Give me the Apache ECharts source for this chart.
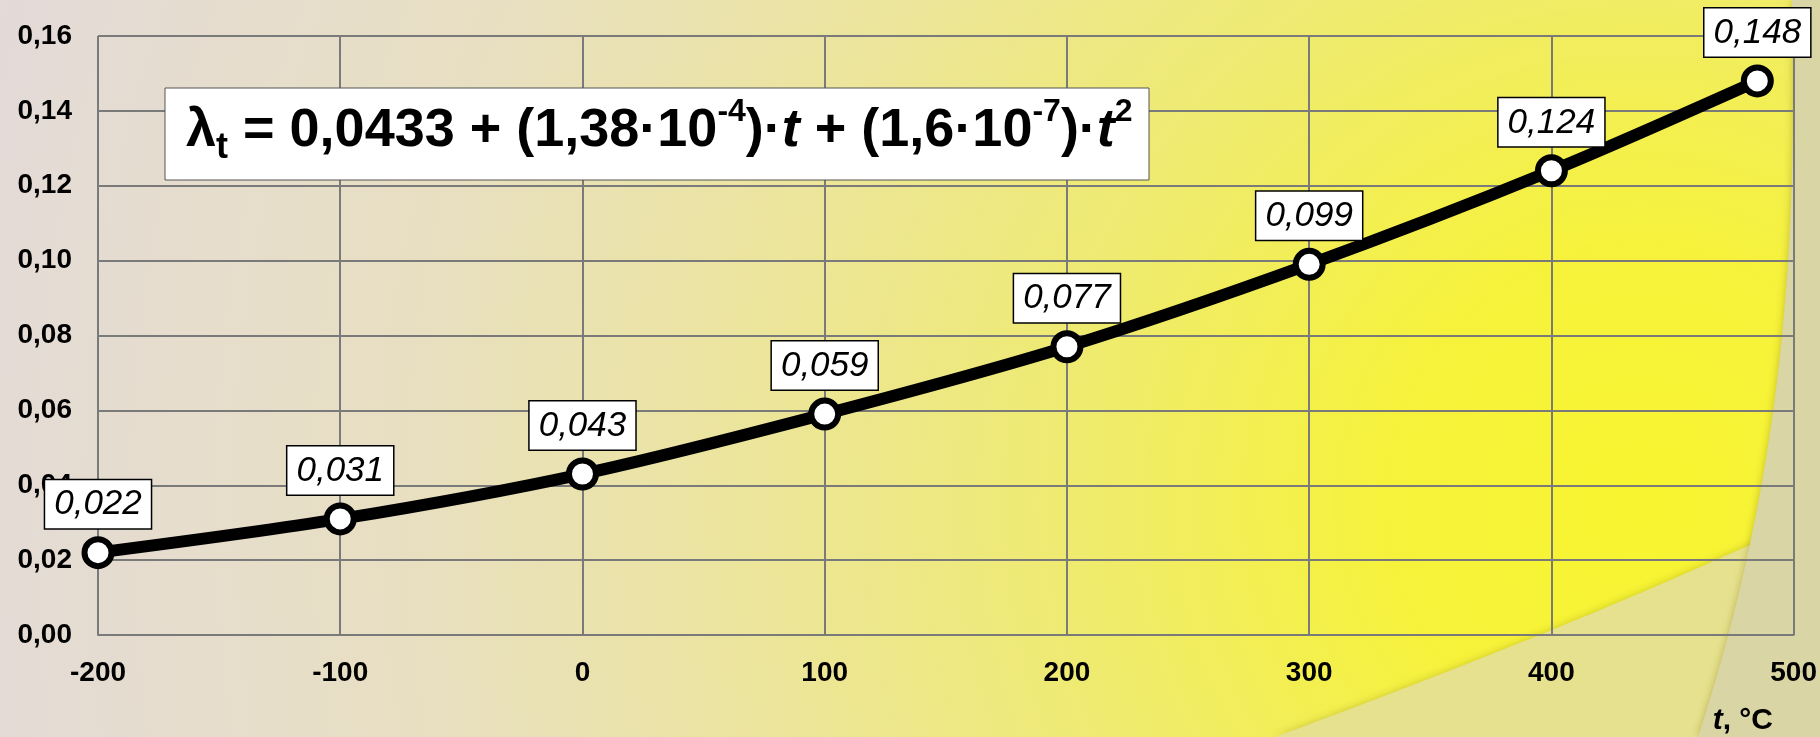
<!DOCTYPE html>
<html>
<head>
<meta charset="utf-8">
<script src="https://cdn.jsdelivr.net/npm/echarts@6/dist/echarts.min.js"></script>
<style>
  html, body { margin: 0; padding: 0; }
  #main { width: 1820px; height: 737px; }
</style>
</head>
<body>
<div id="main"></div>
<script>
// температура, °C и теплопроводность
var temps = [-200, -100, 0, 100, 200, 300, 400, 485];
var lambda = [0.022, 0.031, 0.043, 0.059, 0.077, 0.099, 0.124, 0.148];
var xMin = -200, xMax = 500, xStep = 100;
var yMin = 0, yMax = 0.16, yStep = 0.02;

var chart = echarts.init(document.getElementById('main'));

var points = temps.map(function (t, i) { return [t, lambda[i]]; });

function comma(v, d) {
  return v.toFixed(d).replace('.', ',');
}

// кривая Безье -> точки для фона
function bez(p0, p1, p2, p3, n) {
  var out = [];
  for (var i = 0; i <= n; i++) {
    var s = i / n, u = 1 - s;
    out.push([
      u*u*u*p0[0] + 3*u*u*s*p1[0] + 3*u*s*s*p2[0] + s*s*s*p3[0],
      u*u*u*p0[1] + 3*u*u*s*p1[1] + 3*u*s*s*p2[1] + s*s*s*p3[1]
    ]);
  }
  return out;
}

var swoosh = bez([1275, 737], [1450, 672], [1640, 598], [1820, 512], 40).concat([[1820, 737]]);
var edge = bez([1792, 0], [1798, 250], [1782, 480], [1698, 737], 40).concat([[1820, 737], [1820, 0]]);

var font = 'Liberation Sans, Arial, sans-serif';

var option = {
  animation: false,
  backgroundColor: '#e4dcd8',
  grid: { left: 98, right: 26, top: 36, bottom: 102 },
  xAxis: {
    type: 'value',
    min: xMin, max: xMax, interval: xStep,
    axisLine: { show: true, lineStyle: { color: '#7a7a7a', width: 2 } },
    axisTick: { show: false },
    splitLine: { show: true, lineStyle: { color: '#7a7a7a', width: 2 } },
    axisLabel: { color: '#000', fontSize: 28, fontWeight: 'bold', fontFamily: font, margin: 24 }
  },
  yAxis: {
    type: 'value',
    min: yMin, max: yMax, interval: yStep,
    axisLine: { show: true, lineStyle: { color: '#7a7a7a', width: 2 } },
    axisTick: { show: false },
    splitLine: { show: true, lineStyle: { color: '#7a7a7a', width: 2 } },
    axisLabel: {
      color: '#000', fontSize: 28, fontWeight: 'bold', fontFamily: font, margin: 26,
      formatter: function (v) { return comma(v, 2); }
    }
  },
  graphic: [
    // фон
    {
      type: 'rect', z: -10, silent: true,
      shape: { x: 0, y: 0, width: 1820, height: 737 },
      style: {
        fill: new echarts.graphic.RadialGradient(1640, 500, 1720, [
          { offset: 0, color: '#f8f530' },
          { offset: 0.15, color: '#f6f23c' },
          { offset: 0.32, color: '#efeb6c' },
          { offset: 0.52, color: '#ece59c' },
          { offset: 0.72, color: '#e8dfc2' },
          { offset: 1, color: '#e3dad9' }
        ], true)
      }
    },
    {
      type: 'polygon', z: -9, silent: true,
      shape: { points: swoosh },
      style: { fill: '#e6e18e', shadowBlur: 8, shadowColor: 'rgba(120,110,0,0.35)' }
    },
    {
      type: 'polygon', z: -8, silent: true,
      shape: { points: edge },
      style: { fill: '#dad5a4', shadowBlur: 8, shadowColor: 'rgba(120,110,0,0.4)' }
    },
    // формула
    {
      type: 'rect', z: 50,
      shape: { x: 165, y: 88, width: 984, height: 92 },
      style: { fill: '#fff', stroke: '#555', lineWidth: 1 }
    },
    {
      type: 'text', z: 51, left: 186, top: 96,
      style: {
        text: '{m|λ}{sub|t}{m| = 0,0433 + (1,38·10}{sup|-4}{m|)·}{it|t}{m| + (1,6·10}{sup|-7}{m|)·}{it|t}{sup|2}',
        fill: '#000',
        rich: {
          m: { fontSize: 54, fontWeight: 'bold', fontFamily: font, lineHeight: 70, verticalAlign: 'middle' },
          it: { fontSize: 54, fontWeight: 'bold', fontStyle: 'italic', fontFamily: font, lineHeight: 70, verticalAlign: 'middle' },
          sub: { fontSize: 36, fontWeight: 'bold', fontFamily: font, lineHeight: 30, verticalAlign: 'bottom' },
          sup: { fontSize: 32, fontWeight: 'bold', fontFamily: font, lineHeight: 40, verticalAlign: 'top' }
        }
      }
    },
    // подпись оси
    {
      type: 'text', z: 51, right: 47, top: 706,
      style: {
        text: '{i|t}{n|, °C}',
        fill: '#000',
        rich: {
          i: { fontSize: 30, fontWeight: 'bold', fontStyle: 'italic', fontFamily: font },
          n: { fontSize: 30, fontWeight: 'bold', fontFamily: font }
        }
      }
    }
  ],
  series: [{
    type: 'line',
    data: points,
    smooth: 0.3,
    lineStyle: { color: '#000', width: 12 },
    symbol: 'circle',
    symbolSize: 27,
    itemStyle: { color: '#fff', borderColor: '#000', borderWidth: 6 },
    label: {
      show: true,
      position: 'top',
      distance: 8,
      color: '#000',
      fontSize: 35,
      fontStyle: 'italic',
      fontFamily: font,
      lineHeight: 37,
      backgroundColor: '#fff',
      borderColor: '#000',
      borderWidth: 1.5,
      padding: [6, 9, 5, 9],
      formatter: function (p) { return comma(p.value[1], 3); }
    },
    z: 10
  }]
};

chart.setOption(option);
</script>
</body>
</html>
